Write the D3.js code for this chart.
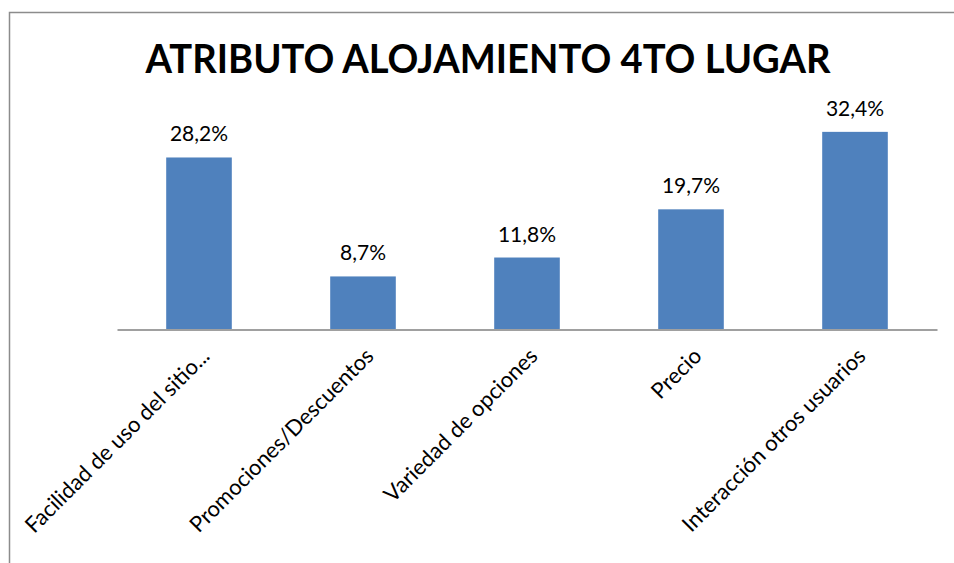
<!DOCTYPE html>
<html>
<head>
<meta charset="utf-8">
<script src="https://cdn.jsdelivr.net/npm/d3@7"></script>
<style>
  html, body { margin: 0; padding: 0; background: #fff; }
  svg { display: block; }
</style>
</head>
<body>
<svg id="chart" width="954" height="563"></svg>
<script>
const title = "ATRIBUTO ALOJAMIENTO 4TO LUGAR";
const categories = [
  "Facilidad de uso del sitio...",
  "Promociones/Descuentos",
  "Variedad de opciones",
  "Precio",
  "Interacción otros usuarios"
];
const values = [28.2, 8.7, 11.8, 19.7, 32.4];
const valueLabels = ["28,2%", "8,7%", "11,8%", "19,7%", "32,4%"];

const svg = d3.select("#chart");
const W = 954, H = 563;

svg.append("rect").attr("x", 0).attr("y", 0).attr("width", W).attr("height", H).attr("fill", "#fff");

// outer chart border
svg.append("rect")
  .attr("x", 9.5).attr("y", 12.5)
  .attr("width", 980).attr("height", 600)
  .attr("fill", "none")
  .attr("stroke", "#8c8c8c")
  .attr("stroke-width", 1.5);

// title
svg.append("text")
  .attr("x", 488).attr("y", 73)
  .attr("text-anchor", "middle")
  .attr("font-family", "Lato, 'Open Sans', sans-serif")
  .attr("font-weight", "bold")
  .attr("font-size", 40)
  .attr("textLength", 685)
  .attr("lengthAdjust", "spacingAndGlyphs")
  .attr("fill", "#000")
  .text(title);

const x = d3.scaleBand()
  .domain(categories)
  .range([117, 937])
  .paddingInner(0.6)
  .paddingOuter(0.3);

const y = d3.scaleLinear()
  .domain([0, 35])
  .range([329.5, 116]);

// bars
svg.selectAll("rect.bar")
  .data(values)
  .join("rect")
  .attr("class", "bar")
  .attr("x", (d, i) => x(categories[i]))
  .attr("y", d => y(d))
  .attr("width", x.bandwidth())
  .attr("height", d => y(0) - y(d))
  .attr("fill", "#4f81bd");

// value labels
svg.selectAll("text.val")
  .data(values)
  .join("text")
  .attr("class", "val")
  .attr("x", (d, i) => x(categories[i]) + x.bandwidth() / 2)
  .attr("y", d => y(d) - 16)
  .attr("text-anchor", "middle")
  .attr("font-family", "Lato, 'Open Sans', sans-serif")
  .attr("font-size", 21)
  .attr("fill", "#000")
  .text((d, i) => valueLabels[i]);

// x axis
const axis = svg.append("g")
  .attr("transform", `translate(0,${y(0)})`)
  .call(d3.axisBottom(x).tickSize(0).tickPadding(0));
axis.select(".domain").attr("stroke", "#a0a0a0").attr("stroke-width", 2);
axis.selectAll(".tick text")
  .attr("font-family", "Lato, 'Open Sans', sans-serif")
  .attr("font-size", 22)
  .attr("fill", "#000")
  .attr("text-anchor", "end")
  .attr("dy", null)
  .attr("y", 0)
  .attr("transform", "translate(12,28) rotate(-45)");
</script>
</body>
</html>
